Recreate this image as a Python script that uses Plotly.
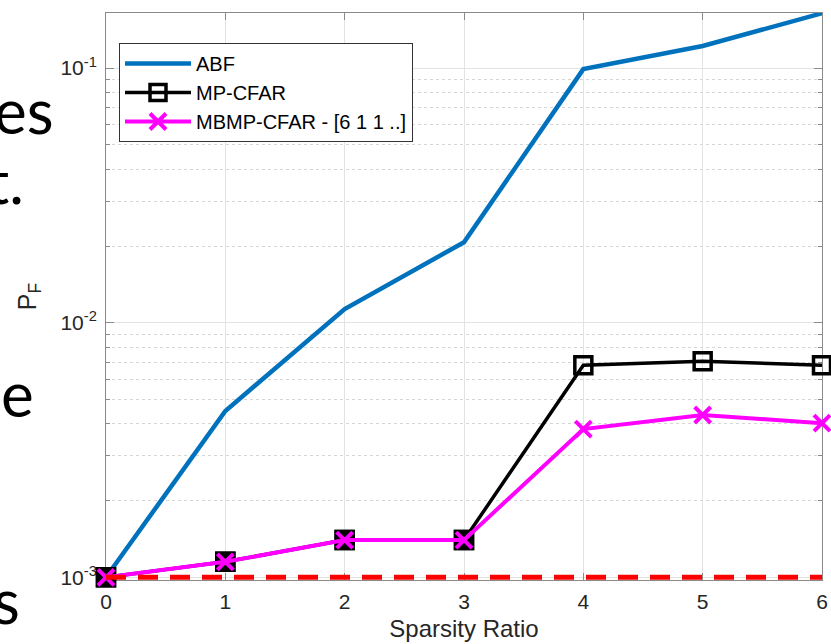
import plotly.graph_objects as go

# Sparsity ratio sweep and false-alarm probabilities
sparsity = [0, 1, 2, 3, 4, 5, 6]
pf_abf = [1.0e-3, 4.5e-3, 1.13e-2, 2.07e-2, 9.9e-2, 1.22e-1, 1.64e-1]
pf_mp_cfar = [1.0e-3, 1.15e-3, 1.40e-3, 1.40e-3, 6.8e-3, 7.05e-3, 6.8e-3]
pf_mbmp_cfar = [1.0e-3, 1.15e-3, 1.40e-3, 1.40e-3, 3.82e-3, 4.34e-3, 4.03e-3]
pf_design = 1.0e-3

series_names = ["ABF", "MP-CFAR", "MBMP-CFAR - [6 1 1 ..]"]
y_tick_vals = [1e-3, 1e-2, 1e-1]
y_tick_text = ["10<sup>-3</sup>", "10<sup>-2</sup>", "10<sup>-1</sup>"]
y_minor_vals = [m * d for d in (1e-3, 1e-2, 1e-1) for m in range(2, 10) if m * d < 0.17]

# Slide body text fragments running along the left edge
side_text = ["es", "t.", "e", "s"]

W, H = 831, 644
L, R, T, B = 106, 9, 13, 64
PW, PH = W - L - R, H - T - B
Y_RANGE = [-3.0106, -0.784]

fig = go.Figure()

fig.add_trace(go.Scatter(
    x=sparsity, y=pf_abf, name=series_names[0], mode="lines",
    line=dict(color="#0072BD", width=4.5), cliponaxis=False,
))
fig.add_trace(go.Scatter(
    x=sparsity, y=pf_mp_cfar, name=series_names[1], mode="lines+markers",
    line=dict(color="black", width=3.5), cliponaxis=False,
    marker=dict(symbol="square-open", size=17, color="black",
                line=dict(color="black", width=3.5)),
))
# Where the two CFAR curves coincide the square and cross merge into a dark block
same = [(x, a) for x, a, b in zip(sparsity, pf_mp_cfar, pf_mbmp_cfar) if a == b]
fig.add_trace(go.Scatter(
    x=[p[0] for p in same], y=[p[1] for p in same], mode="markers",
    marker=dict(symbol="square", size=17, color="black",
                line=dict(color="black", width=3.5)),
    cliponaxis=False, showlegend=False, hoverinfo="skip",
))
fig.add_trace(go.Scatter(
    x=sparsity, y=pf_mbmp_cfar, name=series_names[2], mode="lines+markers",
    line=dict(color="#FF00FF", width=4), cliponaxis=False,
    marker=dict(symbol="x-thin-open", size=16, color="#FF00FF",
                line=dict(color="#FF00FF", width=4)),
))
fig.add_trace(go.Scatter(
    x=[sparsity[0], sparsity[-1]], y=[pf_design, pf_design], mode="lines",
    line=dict(color="#FF0000", width=5, dash="20px,12px"), cliponaxis=False,
    showlegend=False, hoverinfo="skip",
))


def px_x(px):
    return (px - L) / PW


def px_y(py):
    return (H - B - py) / PH


side_pos = [(56, 110), (26, 180), (36, 393), (22, 600)]
for txt, (xr, yc) in zip(side_text, side_pos):
    fig.add_annotation(
        text=txt, x=px_x(xr), y=px_y(yc), xref="paper", yref="paper",
        xanchor="right", yanchor="middle", showarrow=False,
        font=dict(family="Lato", size=62, color="black"),
    )

axis_gray = "#8a8a8a"
fig.update_layout(
    width=W, height=H,
    margin=dict(l=L, r=R, t=T, b=B, pad=0, autoexpand=False),
    paper_bgcolor="white", plot_bgcolor="white",
    font=dict(family="Liberation Sans", color="#262626"),
    showlegend=True,
    legend=dict(
        x=px_x(119), y=px_y(43), xanchor="left", yanchor="top",
        bgcolor="white", bordercolor="#333333", borderwidth=1,
        font=dict(size=20, color="black"), itemwidth=66,
        tracegroupgap=0,
    ),
    xaxis=dict(
        range=[0, 6], tickvals=sparsity, ticks="inside", ticklen=7,
        tickcolor=axis_gray, showline=True, linecolor=axis_gray, linewidth=1,
        mirror="ticks", showgrid=True, gridcolor="#e3e3e3", gridwidth=1,
        zeroline=False, tickfont=dict(size=21, color="#262626"),
        ticklabelstandoff=3, layer="below traces", automargin=False,
        title=dict(text="Sparsity Ratio", font=dict(size=24, color="#262626"),
                   standoff=7),
    ),
    yaxis=dict(
        type="log", range=Y_RANGE, tickvals=y_tick_vals,
        ticktext=y_tick_text, ticks="inside", ticklen=8, tickcolor=axis_gray,
        showline=True, linecolor=axis_gray, linewidth=1, mirror="ticks",
        showgrid=True, gridcolor="#e3e3e3", gridwidth=1, zeroline=False,
        tickfont=dict(size=21, color="#262626"), layer="below traces",
        ticklabelstandoff=4, automargin=False,
        minor=dict(tickvals=y_minor_vals, ticks="inside", ticklen=4,
                   tickcolor=axis_gray, showgrid=True, gridcolor="#d6d6d6",
                   griddash="dot", gridwidth=1),
        title=dict(text="P<sub>F</sub>", font=dict(size=25, color="#262626"),
                   standoff=16),
    ),
)

fig.write_html("out.html")
